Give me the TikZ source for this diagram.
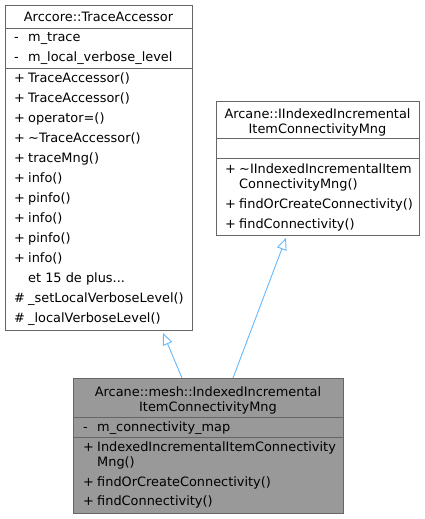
\documentclass[tikz,border=0pt]{standalone}
\usepackage{fontspec}
\setmainfont{DejaVu Sans}
\usetikzlibrary{arrows.meta}

\definecolor{boxborder}{HTML}{666666}
\definecolor{boxfill}{HTML}{999999}
\definecolor{edgeblue}{HTML}{63B8FF}

\tikzset{
  every class/.style={draw=boxborder, line width=0.9pt, inner sep=0pt, anchor=north west},
  class current/.style={fill=boxfill},
  class line/.style={draw=boxborder, line width=0.9pt},
  every member/.style={anchor=base west, inner sep=0pt, font=\fontsize{12.9}{15}\selectfont},
  class title/.style={anchor=base, inner sep=0pt, font=\fontsize{12.9}{15}\selectfont},
  derives/.style={draw=edgeblue, line width=0.9pt, -{Triangle[open, length=12pt, width=10pt]}}
}

\begin{document}
\begin{tikzpicture}[x=1pt, y=-1pt]
\useasboundingbox (0,0) rectangle (424,519);

% class boxes
\node [every class/.try, minimum width=187pt, minimum height=325pt] (trace) at (5,5) {};
\node [every class/.try, minimum width=203pt, minimum height=134pt] (iface) at (216,101) {};
\node [every class/.try, class current/.try, minimum width=270pt, minimum height=135pt] (mesh) at (73,378) {};

\foreach \y in {28,68}
  \draw [class line] (trace.west |- 0,\y) -- (trace.east |- 0,\y);
\foreach \y in {138,158}
  \draw [class line] (iface.west |- 0,\y) -- (iface.east |- 0,\y);
\foreach \y in {417,437}
  \draw [class line] (mesh.west |- 0,\y) -- (mesh.east |- 0,\y);

% Arccore::TraceAccessor
\node [class title/.try] (trace-title) at (98.5,22) {Arccore::TraceAccessor};

\foreach \s/\t [count=\i] in {-/m\_trace, -/m\_local\_verbose\_level} {
  \node [every member/.try] (trace-attr-sym-\i) at (14,22+\i*20) {\s};
  \node [every member/.try] (trace-attr-\i) at (28,22+\i*20) {\t};
}

\foreach \s/\t [count=\i] in {+/TraceAccessor(), +/TraceAccessor(), +/operator=(),
    +/\textasciitilde TraceAccessor(), +/traceMng(), +/info(), +/pinfo(), +/info(),
    +/pinfo(), +/info()} {
  \node [every member/.try] (trace-op-sym-\i) at (14,62+\i*20) {\s};
  \node [every member/.try] (trace-op-\i) at (28,62+\i*20) {\t};
}
\node [every member/.try] (trace-more) at (28,282) {et 15 de plus...};
\foreach \t [count=\i] in {\_setLocalVerboseLevel(), \_localVerboseLevel()} {
  \node [every member/.try] (trace-prot-sym-\i) at (14,282+\i*20) {\#};
  \node [every member/.try] (trace-prot-\i) at (28,282+\i*20) {\t};
}

% Arcane::IIndexedIncrementalItemConnectivityMng
\foreach \t [count=\i] in {Arcane::IIndexedIncremental, ItemConnectivityMng}
  \node [class title/.try] (iface-title-\i) at (317.5,103+\i*15) {\t};

\foreach \y/\s/\t [count=\i] in {173/+/\textasciitilde IIndexedIncrementalItem,
    188//ConnectivityMng(), 208/+/findOrCreateConnectivity(), 228/+/findConnectivity()} {
  \node [every member/.try] (iface-op-sym-\i) at (225,\y) {\s};
  \node [every member/.try] (iface-op-\i) at (239,\y) {\t};
}

% Arcane::mesh::IndexedIncrementalItemConnectivityMng
\foreach \t [count=\i] in {Arcane::mesh::IndexedIncremental, ItemConnectivityMng}
  \node [class title/.try] (mesh-title-\i) at (208,381+\i*15) {\t};

\node [every member/.try] (mesh-attr-sym) at (83,431) {-};
\node [every member/.try] (mesh-attr) at (97,431) {m\_connectivity\_map};

\foreach \y/\s/\t [count=\i] in {451/+/IndexedIncrementalItemConnectivity,
    466//Mng(), 486/+/findOrCreateConnectivity(), 505/+/findConnectivity()} {
  \node [every member/.try] (mesh-op-sym-\i) at (83,\y) {\s};
  \node [every member/.try] (mesh-op-\i) at (97,\y) {\t};
}

% inheritance
\draw [derives] ([xshift=109pt]mesh.north west) -- ([xshift=158pt, yshift=-2pt]trace.south west);
\draw [derives] ([xshift=160pt]mesh.north west) -- ([xshift=70pt, yshift=-2pt]iface.south west);

\end{tikzpicture}
\end{document}
